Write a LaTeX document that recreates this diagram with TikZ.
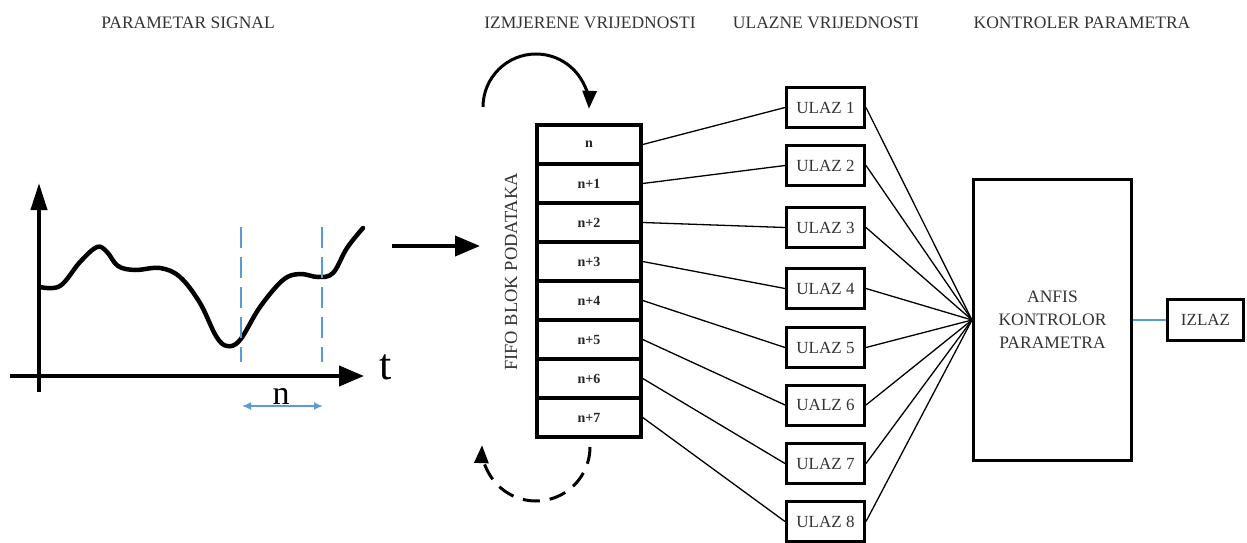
\documentclass[tikz,border=0pt]{standalone}
\usepackage{fontspec}
\setmainfont{Liberation Serif}
\usetikzlibrary{arrows.meta}
\definecolor{lblue}{RGB}{91,155,213}
\begin{document}
\begin{tikzpicture}[x=1pt,y=-1pt,
  title/.style={font=\fontsize{17.5}{21}\selectfont, text=black!80},
  cellbox/.style={draw, line width=3.5pt, minimum width=104pt, minimum height=39pt, inner sep=0pt, font=\bfseries\fontsize{14}{16}\selectfont, text=black!85},
  inbox/.style={draw, line width=3pt, minimum width=78pt, minimum height=40pt, inner sep=0pt, font=\fontsize{17}{20}\selectfont, text=black!80},
  link/.style={line width=1.3pt},
  bigarrow/.style={line width=4pt, -{Triangle[length=25pt,width=20pt]}},
  bluedash/.style={lblue, line width=2pt, dash pattern=on 21pt off 9pt},
]
\useasboundingbox (0,0) rectangle (1247,543);

% titles
\node[title] (t1) at (188,23) {PARAMETAR SIGNAL};
\node[title] (t2) at (590,23) {IZMJERENE VRIJEDNOSTI};
\node[title] (t3) at (826,23) {ULAZNE VRIJEDNOSTI};
\node[title] (t4) at (1082,23) {KONTROLER PARAMETRA};

% signal plot
\coordinate (yb) at (39,392);
\coordinate (yt) at (39,183);
\draw[line width=4pt, -{Triangle[length=27pt,width=16pt]}] (yb) -- (yt);
\coordinate (xl) at (10,376);
\coordinate (xr) at (364,376);
\draw[bigarrow] (xl) -- (xr);
\draw[line width=4.5pt, line cap=round, line join=round]
  plot[smooth, tension=0.6] coordinates {(40,287) (60,286) (80,262) (97,247) (107,252) (118,266) (135,270) (160,268) (180,277) (200,303) (216,336) (227,346) (240,340) (260,307) (283,280) (300,274) (318,277) (333,273) (347,248) (363,228)};
\coordinate (d1t) at (241,227); \coordinate (d1b) at (241,362);
\coordinate (d2t) at (322,227); \coordinate (d2b) at (322,362);
\draw[bluedash] (d1t) -- (d1b);
\draw[bluedash] (d2t) -- (d2b);
\coordinate (na) at (242,406); \coordinate (nb) at (323,406);
\draw[lblue, line width=2pt, {Latex[length=9pt,width=8pt]}-{Latex[length=9pt,width=8pt]}] (na) -- (nb);
\node[font=\fontsize{44}{48}\selectfont, inner sep=0pt] (tl) at (386,367) {t};
\node[font=\fontsize{34}{38}\selectfont, inner sep=0pt] (nl) at (281,396) {n};

% arrow to FIFO
\coordinate (ba) at (392,246);
\coordinate (bb) at (480,246);
\draw[bigarrow] (ba) -- (bb);

% FIFO block
\foreach \i/\lab in {0/n,1/n+1,2/n+2,3/n+3,4/n+4,5/n+5,6/n+6,7/n+7}
  \node[cellbox] (c\i) at (589,{144.5+39*\i}) {\lab};
\node[rotate=90, font=\fontsize{18.5}{22}\selectfont, text=black!80] (fifo) at (511,272) {FIFO BLOK PODATAKA};

% circular arrows
\coordinate (arcA) at (483,107);
\draw[line width=3pt, -{Triangle[length=18pt,width=14pt]}] (arcA) arc[start angle=180, end angle=362, radius=53];
\coordinate (arcB) at (590,447);
\draw[line width=3pt, dash pattern=on 17pt off 10pt, -{Triangle[length=18pt,width=14pt]}] (arcB) arc[start angle=0, end angle=182, radius=54];

% inputs
\foreach \i/\y/\lab in {1/107.5/ULAZ 1,2/165.5/ULAZ 2,3/227.5/ULAZ 3,4/288.5/ULAZ 4,5/347.5/ULAZ 5,6/405/UALZ 6,7/463.5/ULAZ 7,8/521.5/ULAZ 8}
  \node[inbox] (u\i) at (825.5,\y) {\lab};

% ANFIS
\node[draw, line width=3pt, minimum width=158pt, minimum height=281pt, align=center, font=\fontsize{17.5}{23}\selectfont, text=black!80] (anfis) at (1052.5,320) {ANFIS\\KONTROLOR\\PARAMETRA};
\node[inbox, minimum width=76pt, minimum height=41pt] (izlaz) at (1205.5,320) {IZLAZ};

% links
\foreach \i/\j in {0/1,1/2,2/3,3/4,4/5,5/6,6/7,7/8}
  \draw[link] (c\i.east) -- (u\j.west);
\foreach \j in {1,...,8}
  \draw[link] (u\j.east) -- (anfis.west);
\draw[lblue, line width=1.3pt] (anfis.east) -- (izlaz.west);
\end{tikzpicture}
\end{document}
